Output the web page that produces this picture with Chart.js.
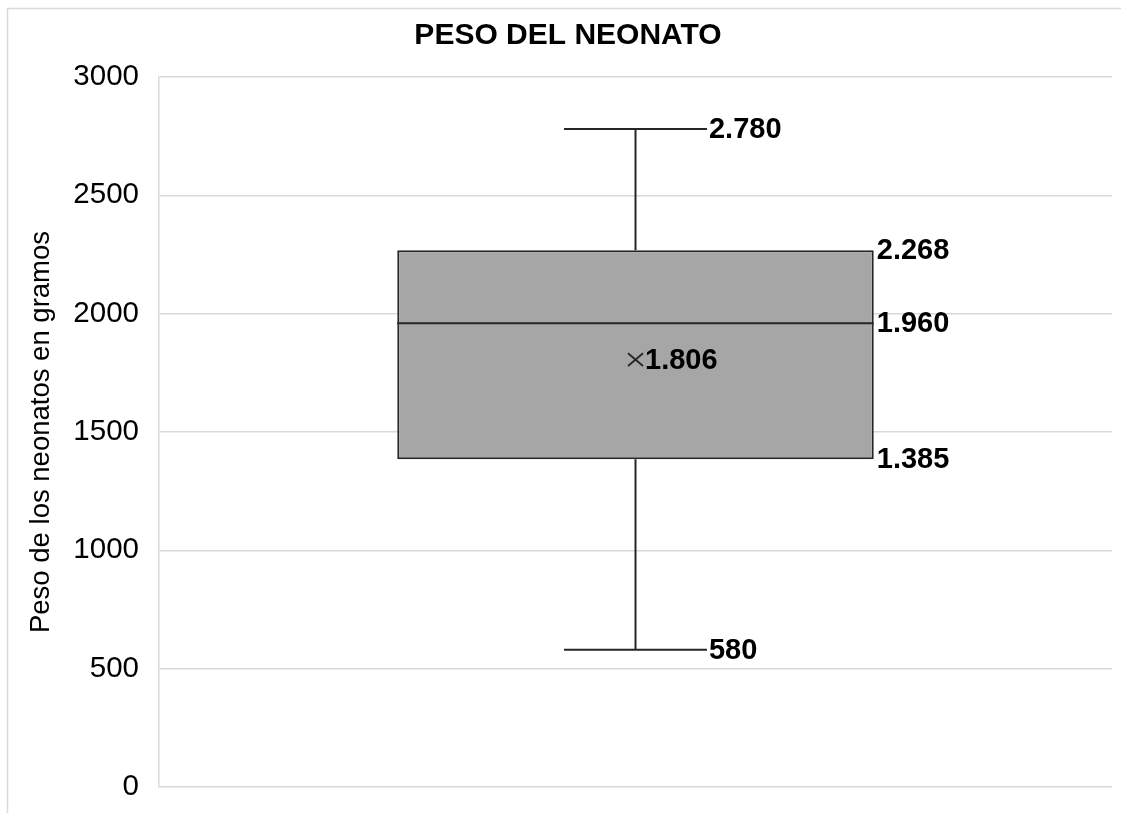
<!DOCTYPE html>
<html lang="es">
<head>
<meta charset="utf-8">
<title>Peso del neonato</title>
<script src="https://cdn.jsdelivr.net/npm/chart.js@4/dist/chart.umd.min.js"></script>
<style>
  html, body { margin: 0; padding: 0; background: #ffffff; }
  #wrap { position: relative; width: 1121px; height: 813px; }
</style>
</head>
<body>
<div id="wrap"><canvas id="chart" width="1121" height="813"></canvas></div>
<script>
// Box-plot summary of newborn weight (grams)
const categories   = ['Peso del neonato'];
const minValues    = [580];
const q1Values     = [1385];
const medianValues = [1960];
const q3Values     = [2268];
const maxValues    = [2780];
const meanValues   = [1806];
const yTickValues  = [0, 500, 1000, 1500, 2000, 2500, 3000];

const FONT = '"Liberation Sans", Arial, sans-serif';
const INK = '#262626';

// Spanish thousands separator: 2780 -> "2.780"
function fmt(v) {
  return String(v).replace(/\B(?=(\d{3})+(?!\d))/g, '.');
}

// Light frame around the whole chart
const framePlugin = {
  id: 'frame',
  beforeDraw(chart) {
    const ctx = chart.ctx;
    ctx.save();
    ctx.strokeStyle = '#d9d9d9';
    ctx.lineWidth = 1.5;
    ctx.strokeRect(7.5, 8.5, chart.width + 40, chart.height + 40);
    ctx.restore();
  }
};

// Whiskers, median, mean marker and value labels drawn over the box
const boxPlotPlugin = {
  id: 'boxExtras',
  afterDatasetsDraw(chart) {
    const ctx = chart.ctx;
    const y = chart.scales.y;
    const bars = chart.getDatasetMeta(0).data;
    ctx.save();
    bars.forEach((bar, i) => {
      const cx = bar.x;
      const half = bar.width / 2;
      const capHalf = bar.width * 0.15;
      const yMin = y.getPixelForValue(minValues[i]);
      const yQ1 = y.getPixelForValue(q1Values[i]);
      const yMed = y.getPixelForValue(medianValues[i]);
      const yQ3 = y.getPixelForValue(q3Values[i]);
      const yMax = y.getPixelForValue(maxValues[i]);
      const yMean = y.getPixelForValue(meanValues[i]);

      ctx.strokeStyle = INK;
      ctx.lineWidth = 2;
      ctx.lineCap = 'butt';

      // whiskers
      ctx.beginPath();
      ctx.moveTo(cx, yQ3); ctx.lineTo(cx, yMax);
      ctx.moveTo(cx, yQ1); ctx.lineTo(cx, yMin);
      // caps
      ctx.moveTo(cx - capHalf, yMax); ctx.lineTo(cx + capHalf, yMax);
      ctx.moveTo(cx - capHalf, yMin); ctx.lineTo(cx + capHalf, yMin);
      // median
      ctx.moveTo(cx - half, yMed); ctx.lineTo(cx + half, yMed);
      ctx.stroke();

      // mean marker
      const m = 7.5;
      ctx.lineWidth = 1.8;
      ctx.beginPath();
      ctx.moveTo(cx - m, yMean - m * 0.85); ctx.lineTo(cx + m, yMean + m * 0.85);
      ctx.moveTo(cx + m, yMean - m * 0.85); ctx.lineTo(cx - m, yMean + m * 0.85);
      ctx.stroke();

      // labels
      ctx.fillStyle = '#000000';
      ctx.font = 'bold 29px ' + FONT;
      ctx.textAlign = 'left';
      ctx.textBaseline = 'middle';
      ctx.fillText(fmt(maxValues[i]), cx + capHalf + 2, yMax + 1);
      ctx.fillText(fmt(minValues[i]), cx + capHalf + 2, yMin + 1);
      ctx.fillText(fmt(q3Values[i]), cx + half + 3, yQ3 + 1);
      ctx.fillText(fmt(medianValues[i]), cx + half + 3, yMed + 1);
      ctx.fillText(fmt(q1Values[i]), cx + half + 3, yQ1 + 1);
      ctx.fillText(fmt(meanValues[i]), cx + m + 2, yMean + 1);
    });
    ctx.restore();
  }
};

new Chart(document.getElementById('chart'), {
  type: 'bar',
  data: {
    labels: categories,
    datasets: [{
      label: 'Peso del neonato',
      data: q1Values.map((q1, i) => [q1, q3Values[i]]),
      backgroundColor: '#a6a6a6',
      borderColor: INK,
      borderWidth: 2,
      borderSkipped: false,
      barPercentage: 0.5,
      categoryPercentage: 1.0
    }]
  },
  options: {
    responsive: false,
    animation: false,
    devicePixelRatio: 1,
    layout: { padding: { top: 18, left: 24, right: 9, bottom: 26 } },
    plugins: {
      legend: { display: false },
      tooltip: { enabled: false },
      title: {
        display: true,
        text: 'PESO DEL NEONATO',
        color: '#000000',
        font: { family: FONT, size: 30, weight: 'bold', lineHeight: 1.2 },
        padding: { top: 0, bottom: 23 }
      }
    },
    scales: {
      x: {
        display: false
      },
      y: {
        min: 0,
        max: 3000,
        afterBuildTicks(scale) {
          scale.ticks = yTickValues.map(v => ({ value: v }));
        },
        afterFit(scale) {
          scale.width = 135;
          scale.paddingTop = 0;
          scale.paddingBottom = 0;
        },
        border: { display: true, color: '#d9d9d9', width: 1.5 },
        grid: { color: '#d9d9d9', lineWidth: 1.5, drawTicks: false },
        ticks: {
          color: '#000000',
          padding: 20,
          font: { family: FONT, size: 29.5 },
          callback: v => String(v)
        },
        title: {
          display: true,
          text: 'Peso de los neonatos en gramos',
          color: '#000000',
          font: { family: FONT, size: 27.5, lineHeight: 1.2 },
          padding: { top: 1, bottom: 0 }
        }
      }
    }
  },
  plugins: [framePlugin, boxPlotPlugin]
});
</script>
</body>
</html>
